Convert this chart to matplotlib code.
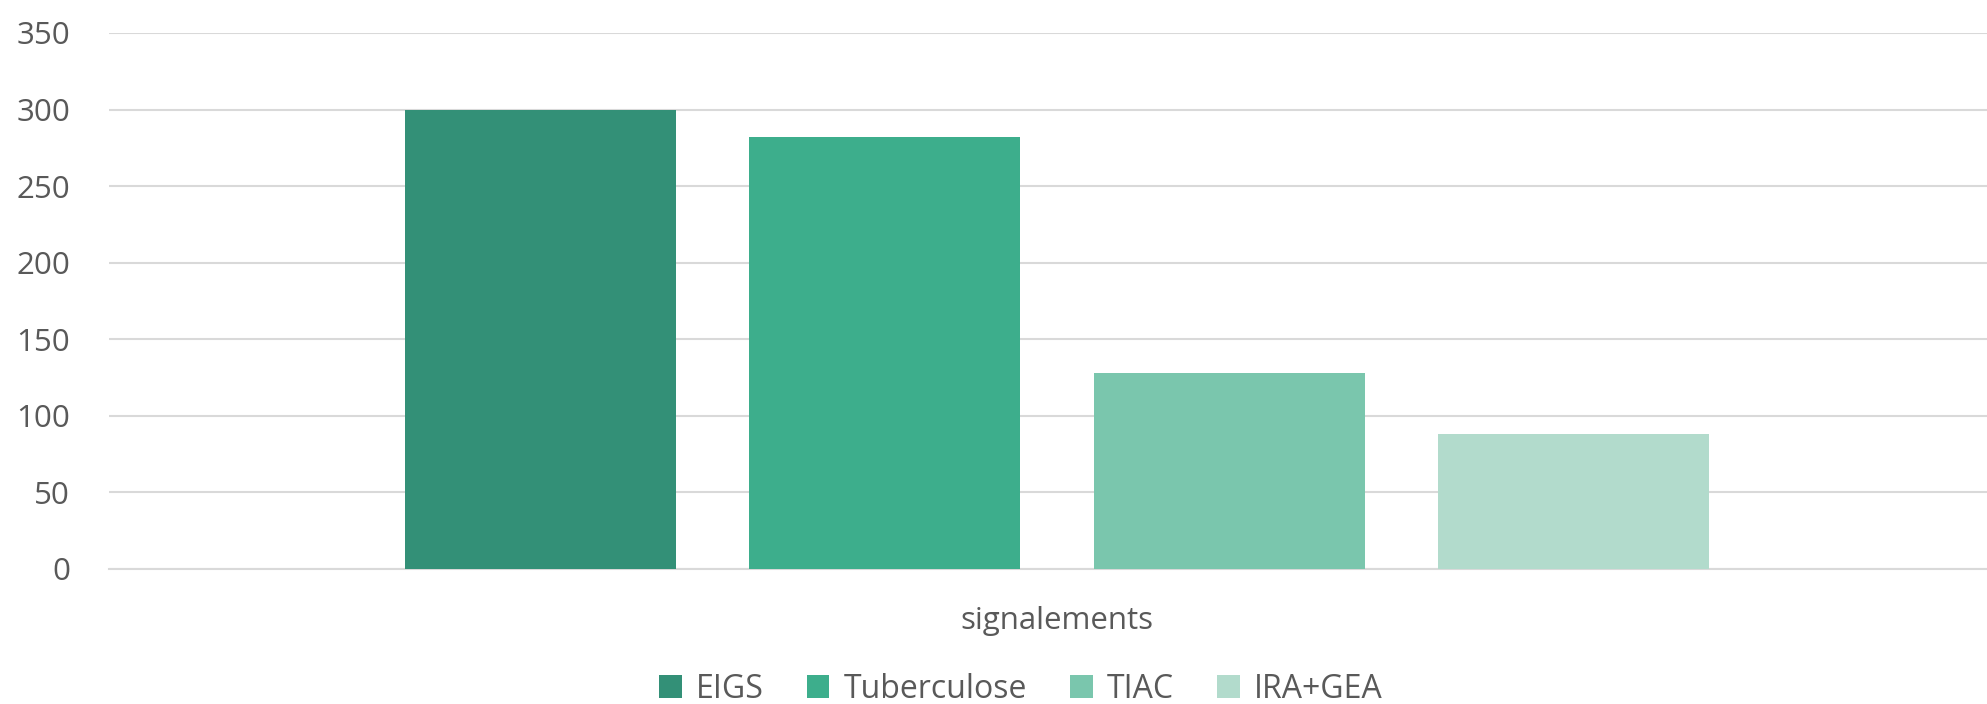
import numpy as np
import matplotlib.pyplot as plt

# data
category = "signalements"
series = ["EIGS", "Tuberculose", "TIAC", "IRA+GEA"]
values = [300, 282, 128, 88]
colors = ["#339077", "#3dae8c", "#7ac6ad", "#b2dbcc"]
yticks = [0, 50, 100, 150, 200, 250, 300, 350]

plt.rcParams['font.family'] = ['Open Sans', 'DejaVu Sans']
text_col = "#595959"

fig = plt.figure(figsize=(19.87, 7.04), dpi=100)
ax = fig.add_axes([109 / 1987, 135 / 704, 1878 / 1987, 536 / 704])

step = 0.1832
width = 0.1443
offsets = (np.arange(len(series)) - 1.5) * step
for off, v, c, name in zip(offsets, values, colors, series):
    ax.bar(off, v, width=width, color=c, label=name, zorder=3)

ax.set_xlim(-0.5048, 0.4952)
ax.set_ylim(0, 350)
ax.set_yticks(yticks)
ax.set_xticks([0])
ax.set_xticklabels([category])
ax.tick_params(axis='x', length=0, pad=27, labelsize=22.5, labelcolor=text_col)
ax.tick_params(axis='y', length=0, pad=28, labelsize=22.5, labelcolor=text_col)
ax.grid(axis='y', color="#d9d9d9", linewidth=1.5, zorder=0)
for s in ['top', 'right', 'left']:
    ax.spines[s].set_visible(False)
ax.spines['bottom'].set_color("#d9d9d9")
ax.spines['bottom'].set_linewidth(1.5)

leg = fig.legend(loc='center', bbox_to_anchor=(1021 / 1987, 15 / 704), ncol=4,
                 frameon=False, fontsize=23, handlelength=0.7, handleheight=0.75,
                 handletextpad=0.45, columnspacing=1.35)
for t in leg.get_texts():
    t.set_color(text_col)

fig.savefig("out.png", dpi=100)
